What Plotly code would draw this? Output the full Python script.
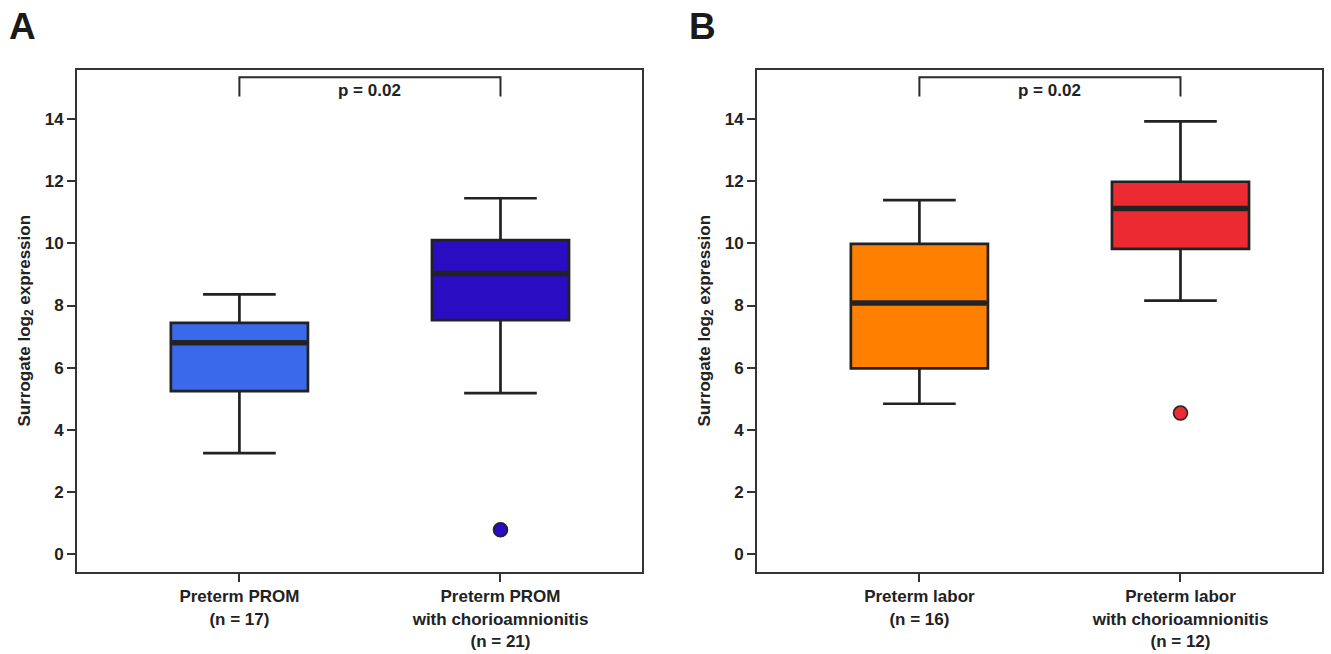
import plotly.graph_objects as go

# ---------------- data ----------------
panel_a_labels = ["Preterm PROM<br>(n = 17)", "Preterm PROM<br>with chorioamnionitis<br>(n = 21)"]
panel_a_lower = [3.25, 5.18]
panel_a_q1 = [5.25, 7.53]
panel_a_median = [6.80, 9.03]
panel_a_q3 = [7.44, 10.10]
panel_a_upper = [8.36, 11.45]
panel_a_outlier_pos = [1]
panel_a_outlier_val = [0.79]
panel_a_colors = ["#3A6AEA", "#2A0CC2"]

panel_b_labels = ["Preterm labor<br>(n = 16)", "Preterm labor<br>with chorioamnionitis<br>(n = 12)"]
panel_b_lower = [4.84, 8.16]
panel_b_q1 = [5.98, 9.82]
panel_b_median = [8.08, 11.12]
panel_b_q3 = [9.98, 11.98]
panel_b_upper = [11.39, 13.92]
panel_b_outlier_pos = [1]
panel_b_outlier_val = [4.54]
panel_b_colors = ["#FF8000", "#EC2A32"]

p_text = "p = 0.02"
bracket_low, bracket_high = 14.72, 15.34
y_ticks = [0, 2, 4, 6, 8, 10, 12, 14]

# ---------------- style ----------------
FONT = "Liberation Sans, Arial, sans-serif"
DARK = "#222222"
BOX_W = 0.525
positions = [0, 1]

fig = go.Figure()


def bold_lines(t):
    return "<b>" + t.replace("<br>", "</b><br><b>") + "</b>"


def add_panel(xa, ya, lower, q1, med, q3, upper, opos, oval, colors):
    for i, pos in enumerate(positions):
        fig.add_trace(go.Box(
            x=[pos], q1=[q1[i]], median=[med[i]], q3=[q3[i]],
            lowerfence=[lower[i]], upperfence=[upper[i]],
            width=BOX_W, whiskerwidth=0.53, boxpoints=False,
            fillcolor=colors[i], line=dict(color=DARK, width=2.7),
            xaxis=xa, yaxis=ya, showlegend=False, hoverinfo="skip"))
        # thick median bar
        fig.add_trace(go.Scatter(
            x=[pos - BOX_W / 2 + 0.005, pos + BOX_W / 2 - 0.005], y=[med[i], med[i]],
            mode="lines", line=dict(color=DARK, width=5.5),
            xaxis=xa, yaxis=ya, showlegend=False, hoverinfo="skip"))
    for p, v in zip(opos, oval):
        fig.add_trace(go.Scatter(
            x=[p], y=[v], mode="markers",
            marker=dict(size=14, color=colors[p], line=dict(color=DARK, width=1.5)),
            xaxis=xa, yaxis=ya, showlegend=False, hoverinfo="skip"))
    # significance bracket
    fig.add_trace(go.Scatter(
        x=[positions[0], positions[0], positions[1], positions[1]],
        y=[bracket_low, bracket_high, bracket_high, bracket_low],
        mode="lines", line=dict(color="#2a2a2a", width=2),
        xaxis=xa, yaxis=ya, showlegend=False, hoverinfo="skip"))
    fig.add_annotation(
        x=(positions[0] + positions[1]) / 2, y=(bracket_low + bracket_high) / 2 - 0.12,
        xref=xa, yref=ya, text="<b>" + p_text + "</b>", showarrow=False,
        font=dict(family=FONT, size=17, color=DARK))


add_panel("x", "y", panel_a_lower, panel_a_q1, panel_a_median,
          panel_a_q3, panel_a_upper, panel_a_outlier_pos, panel_a_outlier_val, panel_a_colors)
add_panel("x2", "y2", panel_b_lower, panel_b_q1, panel_b_median,
          panel_b_q3, panel_b_upper, panel_b_outlier_pos, panel_b_outlier_val, panel_b_colors)

xaxis_common = dict(
    range=[-0.622, 1.542], tickmode="array", tickvals=positions,
    ticks="outside", ticklen=8, tickwidth=2, tickcolor="#333333",
    showline=True, linewidth=2, linecolor="#333333", mirror=True,
    showgrid=False, zeroline=False,
    tickfont=dict(family=FONT, size=17, color=DARK))
yaxis_common = dict(
    range=[-0.57, 15.59], tickmode="array", tickvals=y_ticks,
    ticktext=["<b>%d</b>" % v for v in y_ticks],
    ticks="outside", ticklen=8, tickwidth=2, tickcolor="#333333",
    showline=True, linewidth=2, linecolor="#333333", mirror=True,
    showgrid=False, zeroline=False,
    tickfont=dict(family=FONT, size=17, color=DARK),
    title=dict(text="<b>Surrogate log<sub>2</sub> expression</b>",
               font=dict(family=FONT, size=17, color=DARK), standoff=10))

fig.update_layout(
    width=1331, height=654, autosize=False,
    margin=dict(l=0, r=0, t=0, b=0),
    paper_bgcolor="white", plot_bgcolor="white",
    xaxis=dict(domain=[77 / 1331, 642 / 1331], anchor="y",
               ticktext=[bold_lines(t) for t in panel_a_labels], **xaxis_common),
    yaxis=dict(domain=[1 - 572 / 654, 1 - 69.5 / 654], anchor="x", **yaxis_common),
    xaxis2=dict(domain=[757 / 1331, 1322 / 1331], anchor="y2",
                ticktext=[bold_lines(t) for t in panel_b_labels], **xaxis_common),
    yaxis2=dict(domain=[1 - 572 / 654, 1 - 69.5 / 654], anchor="x2", **yaxis_common),
)

for letter, xpx in [("A", 22), ("B", 702)]:
    fig.add_annotation(
        x=xpx / 1331, y=1 - 27 / 654, xref="paper", yref="paper",
        text="<b>" + letter + "</b>", showarrow=False,
        xanchor="center", yanchor="middle",
        font=dict(family=FONT, size=37, color="#1a1a1a"))

fig.write_html("out.html")
